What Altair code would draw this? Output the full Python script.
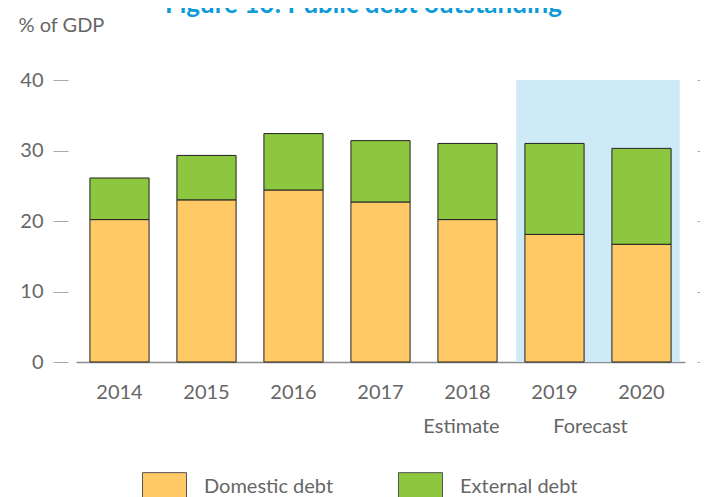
import altair as alt
import pandas as pd

years = ["2014", "2015", "2016", "2017", "2018", "2019", "2020"]
domestic = [20.2, 23.0, 24.4, 22.7, 20.2, 18.1, 16.7]
external = [5.9, 6.3, 8.0, 8.7, 10.8, 12.9, 13.6]
series_names = ["Domestic debt", "External debt"]
series_colors = ["#FFC966", "#8DC63F"]
forecast_span = ["2019", "2020"]
y_ticks = [0, 10, 20, 30, 40]
note_years = ["2018", "2019"]
note_texts = ["Estimate", "Forecast"]

rows = []
for i, yr in enumerate(years):
    rows.append({"year": yr, "series": series_names[0], "value": domestic[i], "ord": 0})
    rows.append({"year": yr, "series": series_names[1], "value": external[i], "ord": 1})
df = pd.DataFrame(rows)

shade_df = pd.DataFrame({"start": [forecast_span[0]], "end": [forecast_span[1]], "lo": [0], "hi": [40]})
notes_df = pd.DataFrame({"year": note_years, "note": note_texts})

FONT = "Lato"
GRAY = "#666666"

xscale = alt.Scale(domain=years, paddingInner=0.32, paddingOuter=0.16)
xfull = alt.Scale(domain=years, paddingInner=0, paddingOuter=0)
yscale = alt.Scale(domain=[0, 40], nice=False)

shade = alt.Chart(shade_df).mark_rect(color="#CDEAF6").encode(
    x=alt.X("start:N", scale=xfull, bandPosition=0.06, axis=None),
    x2=alt.X2("end:N", bandPosition=0.94),
    y=alt.Y("lo:Q", scale=yscale,
            axis=alt.Axis(orient="right", values=y_ticks, labels=False, domain=False,
                          grid=False, ticks=True, tickSize=3, offset=12,
                          tickColor="#aaaaaa", tickWidth=1, title=None)),
    y2="hi:Q",
)

bars = alt.Chart(df).mark_bar(stroke="#222222", strokeWidth=1).encode(
    x=alt.X("year:N", scale=xscale, sort=years,
            axis=alt.Axis(title=None, labelAngle=0, ticks=False, tickSize=0,
                          domain=True, domainColor="#8c8c8c", domainWidth=1.5,
                          labelFontSize=20, labelColor=GRAY, labelFont=FONT,
                          labelPadding=20)),
    y=alt.Y("value:Q", stack="zero", scale=yscale,
            axis=alt.Axis(orient="left", values=y_ticks, grid=False, domain=False,
                          ticks=True, tickSize=15, offset=8, tickColor="#aaaaaa",
                          tickWidth=1, labelPadding=10, labelFontSize=20,
                          labelColor=GRAY, labelFont=FONT, title="% of GDP",
                          titleAngle=0, titleX=-50, titleY=-49, titleAlign="left",
                          titleBaseline="alphabetic", titleFontWeight="normal",
                          titleFontSize=20, titleColor=GRAY, titleFont=FONT)),
    color=alt.Color("series:N",
                    scale=alt.Scale(domain=series_names, range=series_colors),
                    legend=alt.Legend(orient="none", legendX=66, legendY=384,
                                      direction="horizontal", title=None,
                                      symbolType="M-1,-0.64H1V0.64H-1Z",
                                      symbolSize=1936, symbolStrokeColor="#555555",
                                      symbolStrokeWidth=1, symbolOpacity=1,
                                      labelFontSize=20, labelColor=GRAY, labelFont=FONT,
                                      labelOffset=17, columnPadding=62, padding=0)),
    order=alt.Order("ord:Q", sort="ascending"),
)

est = alt.Chart(notes_df).transform_filter(alt.datum.note == "Estimate").mark_text(
    dx=-6, baseline="alphabetic", fontSize=20, color=GRAY, font=FONT
).encode(
    x=alt.X("year:N", scale=xscale, axis=None),
    y=alt.value(353),
    text="note:N",
)

fc = alt.Chart(notes_df).transform_filter(alt.datum.note == "Forecast").mark_text(
    dx=36, baseline="alphabetic", fontSize=20, color=GRAY, font=FONT
).encode(
    x=alt.X("year:N", scale=xscale, axis=None),
    y=alt.value(353),
    text="note:N",
)

chart = alt.layer(shade, bars, est, fc).resolve_scale(
    x="independent"
).resolve_axis(y="independent").properties(
    width=609,
    height=282,
    autosize=alt.AutoSizeParams(type="none"),
    padding={"left": 68, "top": 72, "right": 15, "bottom": 135},
    title=alt.TitleParams(text="Figure 10: Public debt outstanding", fontSize=26,
                          fontWeight="bold", color="#0E9AD7", font=FONT,
                          anchor="middle", frame="group", dx=-17, offset=-3),
).configure(font=FONT, view=alt.ViewConfig(strokeWidth=0))

chart.save("out.html", embed_options={"renderer": "svg", "actions": False})
